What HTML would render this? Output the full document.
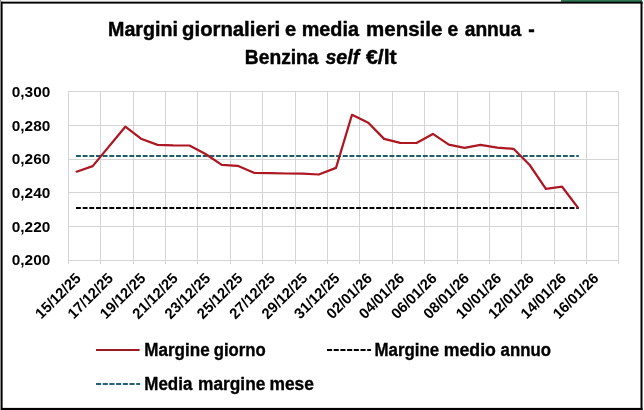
<!DOCTYPE html>
<html><head><meta charset="utf-8"><style>
html,body{margin:0;padding:0;background:#fff;}
body{width:644px;height:410px;overflow:hidden;}
svg{display:block;}
text{font-family:"Liberation Sans",Arial,sans-serif;font-weight:bold;fill:#000;}
</style></head><body>
<svg width="644" height="410" viewBox="0 0 644 410">
<defs><filter id="gs" x="0" y="0" width="100%" height="100%" filterUnits="userSpaceOnUse"><feColorMatrix type="saturate" values="0"/></filter></defs>
<rect x="0" y="0" width="644" height="410" fill="#fff"/>
<rect x="0" y="0" width="644" height="2" fill="#f4f4f4"/>
<rect x="561" y="0" width="81" height="2" fill="#2f7652"/>
<rect x="0" y="0" width="1" height="410" fill="#8f8f8f"/>
<g fill="#000"><rect x="1" y="1.7" width="641.5" height="1.9"/><rect x="1" y="407.9" width="641.5" height="2.1"/><rect x="1" y="1.7" width="1.6" height="408.3"/><rect x="640.5" y="1.7" width="2" height="408.3"/></g>
<g filter="url(#gs)">
<g font-size="20.5" stroke="#000" stroke-width="0.45"><text x="108.04" y="35.6" textLength="69.93" lengthAdjust="spacingAndGlyphs">Margini</text><text x="182.11" y="35.6" textLength="98.09" lengthAdjust="spacingAndGlyphs">giornalieri</text><text x="284.92" y="35.6" textLength="11.18" lengthAdjust="spacingAndGlyphs">e</text><text x="301.73" y="35.6" textLength="57.24" lengthAdjust="spacingAndGlyphs">media</text><text x="366.1" y="35.6" textLength="76.26" lengthAdjust="spacingAndGlyphs">mensile</text><text x="447.56" y="35.6" textLength="10.72" lengthAdjust="spacingAndGlyphs">e</text><text x="464.7" y="35.6" textLength="56.61" lengthAdjust="spacingAndGlyphs">annua</text><text x="528.2" y="35.6" textLength="6.49" lengthAdjust="spacingAndGlyphs">-</text><text x="244.86" y="63.6" textLength="73.67" lengthAdjust="spacingAndGlyphs">Benzina</text><text x="325.4" y="63.6" font-style="italic" textLength="33.8" lengthAdjust="spacingAndGlyphs">self</text><text x="365.9" y="63.6" textLength="30.81" lengthAdjust="spacingAndGlyphs">€/lt</text></g>
</g>
<g stroke="#d5d5d5" stroke-width="1"><line x1="68" y1="91.5" x2="619" y2="91.5"/><line x1="68" y1="125.5" x2="619" y2="125.5"/><line x1="68" y1="159.5" x2="619" y2="159.5"/><line x1="68" y1="192.5" x2="619" y2="192.5"/><line x1="68" y1="226.5" x2="619" y2="226.5"/><line x1="68" y1="260.5" x2="619" y2="260.5"/><line x1="68.5" y1="91.5" x2="68.5" y2="264.1"/><line x1="100.5" y1="91.5" x2="100.5" y2="264.1"/><line x1="133.5" y1="91.5" x2="133.5" y2="264.1"/><line x1="165.5" y1="91.5" x2="165.5" y2="264.1"/><line x1="197.5" y1="91.5" x2="197.5" y2="264.1"/><line x1="230.5" y1="91.5" x2="230.5" y2="264.1"/><line x1="262.5" y1="91.5" x2="262.5" y2="264.1"/><line x1="295.5" y1="91.5" x2="295.5" y2="264.1"/><line x1="327.5" y1="91.5" x2="327.5" y2="264.1"/><line x1="359.5" y1="91.5" x2="359.5" y2="264.1"/><line x1="392.5" y1="91.5" x2="392.5" y2="264.1"/><line x1="424.5" y1="91.5" x2="424.5" y2="264.1"/><line x1="457.5" y1="91.5" x2="457.5" y2="264.1"/><line x1="489.5" y1="91.5" x2="489.5" y2="264.1"/><line x1="521.5" y1="91.5" x2="521.5" y2="264.1"/><line x1="554.5" y1="91.5" x2="554.5" y2="264.1"/><line x1="586.5" y1="91.5" x2="586.5" y2="264.1"/><line x1="618.5" y1="91.5" x2="618.5" y2="264.1"/></g>
<g filter="url(#gs)">
<g font-size="15.4" text-anchor="end"><text x="50.3" y="96.8">0,300</text><text x="50.3" y="130.5">0,280</text><text x="50.3" y="164.2">0,260</text><text x="50.3" y="197.9">0,240</text><text x="50.3" y="231.6">0,220</text><text x="50.3" y="265.3">0,200</text></g>
<g font-size="15" text-anchor="end"><text transform="translate(81.79 279.2) rotate(-45)" textLength="57.2" lengthAdjust="spacingAndGlyphs">15/12/25</text><text transform="translate(114.14 279.2) rotate(-45)" textLength="57.2" lengthAdjust="spacingAndGlyphs">17/12/25</text><text transform="translate(146.49 279.2) rotate(-45)" textLength="57.2" lengthAdjust="spacingAndGlyphs">19/12/25</text><text transform="translate(178.85 279.2) rotate(-45)" textLength="57.2" lengthAdjust="spacingAndGlyphs">21/12/25</text><text transform="translate(211.2 279.2) rotate(-45)" textLength="57.2" lengthAdjust="spacingAndGlyphs">23/12/25</text><text transform="translate(243.55 279.2) rotate(-45)" textLength="57.2" lengthAdjust="spacingAndGlyphs">25/12/25</text><text transform="translate(275.91 279.2) rotate(-45)" textLength="57.2" lengthAdjust="spacingAndGlyphs">27/12/25</text><text transform="translate(308.26 279.2) rotate(-45)" textLength="57.2" lengthAdjust="spacingAndGlyphs">29/12/25</text><text transform="translate(340.61 279.2) rotate(-45)" textLength="57.2" lengthAdjust="spacingAndGlyphs">31/12/25</text><text transform="translate(372.96 279.2) rotate(-45)" textLength="57.2" lengthAdjust="spacingAndGlyphs">02/01/26</text><text transform="translate(405.32 279.2) rotate(-45)" textLength="57.2" lengthAdjust="spacingAndGlyphs">04/01/26</text><text transform="translate(437.67 279.2) rotate(-45)" textLength="57.2" lengthAdjust="spacingAndGlyphs">06/01/26</text><text transform="translate(470.02 279.2) rotate(-45)" textLength="57.2" lengthAdjust="spacingAndGlyphs">08/01/26</text><text transform="translate(502.38 279.2) rotate(-45)" textLength="57.2" lengthAdjust="spacingAndGlyphs">10/01/26</text><text transform="translate(534.73 279.2) rotate(-45)" textLength="57.2" lengthAdjust="spacingAndGlyphs">12/01/26</text><text transform="translate(567.08 279.2) rotate(-45)" textLength="57.2" lengthAdjust="spacingAndGlyphs">14/01/26</text><text transform="translate(599.44 279.2) rotate(-45)" textLength="57.2" lengthAdjust="spacingAndGlyphs">16/01/26</text></g>
</g>
<line x1="76" y1="155.9" x2="578.8" y2="155.9" stroke="#1e5e6c" stroke-width="2.0" stroke-dasharray="4.9 1.77"/>
<line x1="76" y1="207.9" x2="578.8" y2="207.9" stroke="#000000" stroke-width="2.0" stroke-dasharray="4.9 1.77"/>
<polyline points="76.6,171.7 92.7,166.1 125.3,126.7 141,138.7 157.6,144.9 173.2,145.4 189.5,145.5 205.5,154 221.8,164.9 237.6,165.8 254.5,173 270.3,173.1 286.4,173.5 302.6,173.6 318.8,174.5 336,167.9 352,114.8 368.3,122.7 384.1,138.9 400.2,142.9 416.5,143 432.9,133.9 448.8,144.6 464.6,147.9 480.4,144.9 497.3,147.6 513.5,148.8 529.7,165 545.9,188.9 562.1,186.7 577.9,207.6" fill="none" stroke="#ad1722" stroke-width="2.25" stroke-linejoin="round" stroke-linecap="round"/>
<line x1="96" y1="349.9" x2="139.6" y2="349.9" stroke="#9c1822" stroke-width="2"/>
<line x1="96" y1="383.9" x2="140.1" y2="383.9" stroke="#285f70" stroke-width="2" stroke-dasharray="5.1 1.6"/>
<line x1="327" y1="349.9" x2="371.1" y2="349.9" stroke="#000" stroke-width="2" stroke-dasharray="5.1 1.6"/>
<g font-size="18" filter="url(#gs)" stroke="#000" stroke-width="0.35"><text x="144.25" y="355.8" textLength="65.36" lengthAdjust="spacingAndGlyphs">Margine</text><text x="213.77" y="355.8" textLength="51.93" lengthAdjust="spacingAndGlyphs">giorno</text><text x="374.46" y="355.6" textLength="64.65" lengthAdjust="spacingAndGlyphs">Margine</text><text x="443.72" y="355.6" textLength="52.2" lengthAdjust="spacingAndGlyphs">medio</text><text x="500.6" y="355.6" textLength="50.3" lengthAdjust="spacingAndGlyphs">annuo</text><text x="144.26" y="389.8" textLength="48.06" lengthAdjust="spacingAndGlyphs">Media</text><text x="198.04" y="389.8" textLength="67.29" lengthAdjust="spacingAndGlyphs">margine</text><text x="269.54" y="389.8" textLength="44.41" lengthAdjust="spacingAndGlyphs">mese</text></g>
</svg>
</body></html>
